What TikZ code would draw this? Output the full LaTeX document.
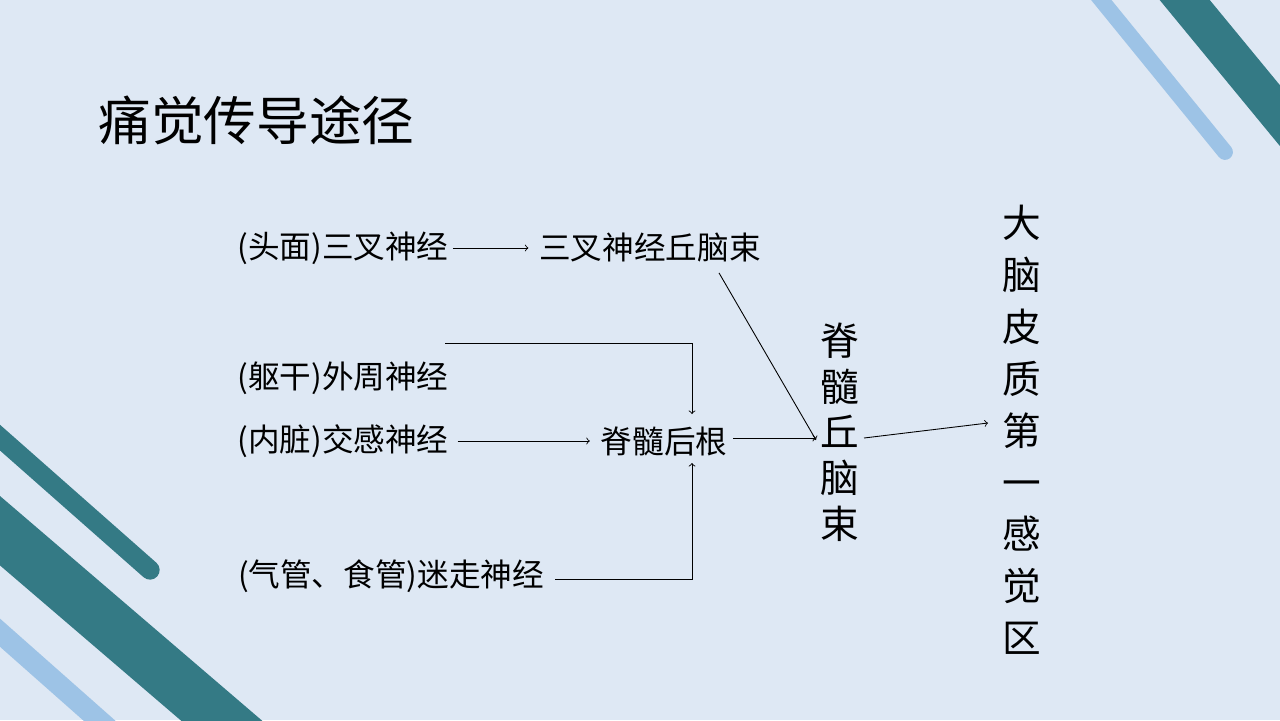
\documentclass[tikz,border=0pt]{standalone}
\usepackage{fontspec}
\setmainfont{Noto Sans CJK SC}
\begin{document}
\begin{tikzpicture}[x=0.02cm,y=-0.02cm,
  lbl/.style={inner sep=0pt,font=\fontsize{18pt}{20pt}\selectfont},
  arr/.style={-to,line width=0.5pt}]
\definecolor{bg}{HTML}{DEE8F4}
\definecolor{teal}{HTML}{347A85}
\definecolor{lblue}{HTML}{9DC3E6}
\fill[bg] (0,0) rectangle (1280,720);
\useasboundingbox (0,0) rectangle (1280,720);
\begin{scope}
\clip (0,0) rectangle (1280,720);
\draw[teal,line width=22pt] (1160,-30) -- (1300,140);
\draw[lblue,line width=9pt,line cap=round] (1085,-20) -- (1225,152);
\draw[teal,line width=11pt,line cap=round] (-20,420) -- (150,570);
\draw[teal,line width=30pt] (-30,505) -- (250,745);
\draw[lblue,line width=12pt] (-20,615) -- (110,730);
\end{scope}
\node[anchor=west,inner sep=0pt,font=\fontsize{30pt}{32pt}\selectfont] (t) at (98,120) {痛觉传导途径};
\node[lbl] (a1) at (343,248) {(头面)三叉神经};
\node[lbl] (a2) at (650,248) {三叉神经丘脑束};
\node[lbl] (b1) at (343,378) {(躯干)外周神经};
\node[lbl] (b2) at (343,441) {(内脏)交感神经};
\node[lbl] (b3) at (391,576) {(气管、食管)迷走神经};
\node[lbl] (c) at (664,441) {脊髓后根};
\node[inner sep=0pt,align=center,font=\fontsize{22pt}{26pt}\selectfont] (d) at (840,432) {脊\\髓\\丘\\脑\\束};
\node[inner sep=0pt,align=center,font=\fontsize{22pt}{29.5pt}\selectfont] (e) at (1022,430) {大\\脑\\皮\\质\\第\\一\\感\\觉\\区};
\coordinate (p1) at (445,343);
\coordinate (p2) at (692,343);
\coordinate (p3) at (555,579);
\coordinate (p4) at (692,579);
\coordinate (q1) at (733,438);
\coordinate (q2) at (816,438);
\draw[arr] (a1.east)+(4,0) -- ([xshift=-6pt]a2.west);
\draw[arr] (a2.south east)+(-42,10) -- (816,440);
\draw[arr] (p1) -- (p2) -- (692,414);
\draw[arr] ([xshift=5pt]b2.east) -- ([xshift=-6pt]c.west);
\draw[arr] (p3) -- (p4) -- (692,463);
\draw[arr] (q1) -- (q2);
\draw[arr] (864,438) -- (988,423);
\end{tikzpicture}
\end{document}
